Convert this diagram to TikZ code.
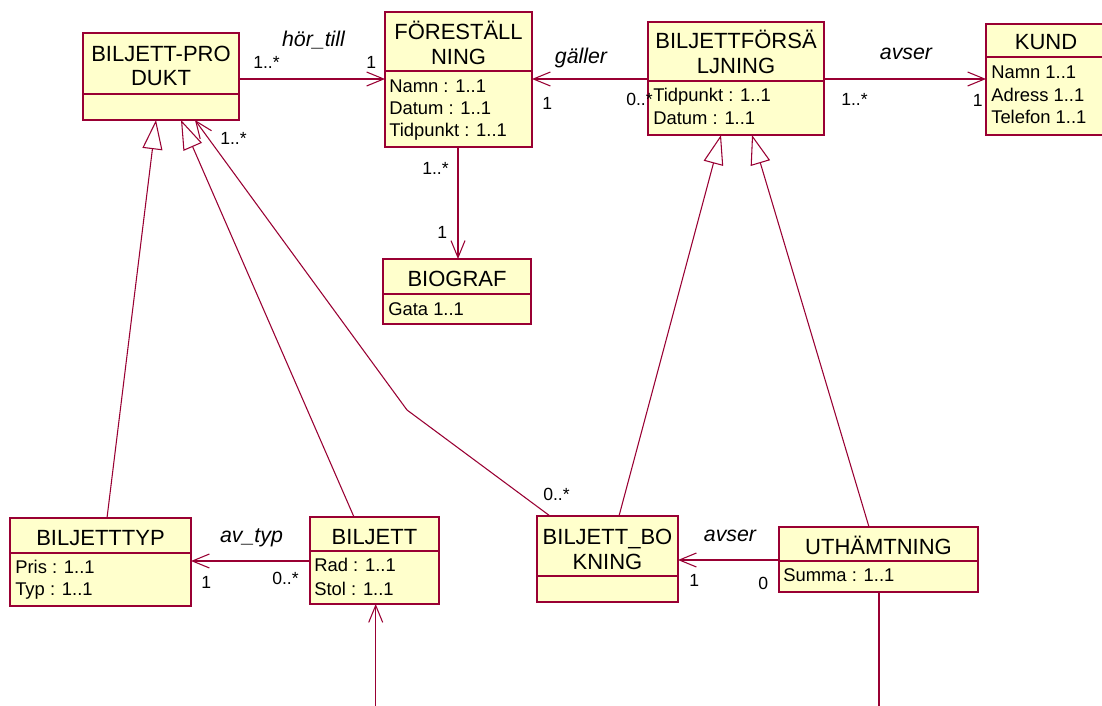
\documentclass[tikz,border=0pt]{standalone}
\usepackage{fontspec}
\setmainfont{Liberation Sans}
\usetikzlibrary{arrows.meta}
\definecolor{rose}{RGB}{153,0,51}
\definecolor{roseFill}{RGB}{255,255,204}
\begin{document}
\begin{tikzpicture}[x=0.75pt,y=-0.75pt,
  cls/.style 2 args={draw=rose, fill=roseFill, line width=1pt, inner sep=0pt, outer sep=0pt,
    anchor=north west, minimum width=#1*0.75pt, minimum height=#2*0.75pt},
  sep/.style={draw=rose, line width=1pt},
  ttl/.style={font=\fontsize{16.5}{18}\selectfont, anchor=base, inner sep=0pt},
  attr/.style={font=\fontsize{13.8}{16}\selectfont, anchor=base west, inner sep=0pt},
  rel/.style={font=\fontsize{16}{18}\selectfont\itshape, anchor=base, inner sep=0pt},
  mult/.style={font=\fontsize{13.2}{15}\selectfont, anchor=base west, inner sep=0pt},
  assoc/.style={draw=rose, line width=0.8pt, -{Straight Barb[length=12.75pt,width=10.5pt]}},
  gen/.style={draw=rose, line width=0.8pt, -{Triangle[open,length=22pt,width=15pt]}},
  plain/.style={draw=rose, line width=0.8pt},
]
\path[use as bounding box, clip] (0,0) rectangle (1102,706);
\fill[white] (0,0) rectangle (1102,706);

% ---------- class boxes ----------
\node[cls={156}{87}]  (bp) at (83,33)   {};
\draw[sep] (bp.west |- 0,94) -- (bp.east |- 0,94);
\node[ttl] (bpt1) at (161,62) {BILJETT-PRO};
\node[ttl] (bpt2) at (161,86) {DUKT};

\node[cls={147}{135}] (fo) at (385,12)  {};
\draw[sep] (fo.west |- 0,71) -- (fo.east |- 0,71);
\node[ttl] (fot1) at (458.5,39.3) {FÖRESTÄLL};
\node[ttl] (fot2) at (458.5,65) {NING};
\node[attr] (foa1) at (389,92.7)  {Namn : 1..1};
\node[attr] (foa2) at (389,114.3) {Datum : 1..1};
\node[attr] (foa3) at (389,136.7) {Tidpunkt : 1..1};

\node[cls={176}{113}] (bf) at (648,22)  {};
\draw[sep] (bf.west |- 0,81) -- (bf.east |- 0,81);
\node[ttl] (bft1) at (736,48.3) {BILJETTFÖRSÄ};
\node[ttl] (bft2) at (736,73.3) {LJNING};
\node[attr] (bfa1) at (653,101.7) {Tidpunkt : 1..1};
\node[attr] (bfa2) at (653,125)   {Datum : 1..1};

\node[cls={120}{111}] (ku) at (986,24)  {};
\draw[sep] (ku.west |- 0,57) -- (ku.east |- 0,57);
\node[ttl] (kut) at (1046,50) {KUND};
\node[attr] (kua1) at (991,78.3)  {Namn 1..1};
\node[attr] (kua2) at (991,101.7) {Adress 1..1};
\node[attr] (kua3) at (991,124)   {Telefon 1..1};

\node[cls={148}{65}]  (bg) at (383,259) {};
\draw[sep] (bg.west |- 0,294) -- (bg.east |- 0,294);
\node[ttl] (bgt) at (457,286.7) {BIOGRAF};
\node[attr] (bga1) at (388,315) {Gata 1..1};

\node[cls={181}{88}]  (bt) at (10,518)  {};
\draw[sep] (bt.west |- 0,553) -- (bt.east |- 0,553);
\node[ttl] (btt) at (100.5,545) {BILJETTTYP};
\node[attr] (bta1) at (15,573.3) {Pris : 1..1};
\node[attr] (bta2) at (15,595)   {Typ : 1..1};

\node[cls={129}{87}]  (bi) at (310,517) {};
\draw[sep] (bi.west |- 0,551) -- (bi.east |- 0,551);
\node[ttl] (bit) at (374.5,544) {BILJETT};
\node[attr] (bia1) at (314,571.7) {Rad : 1..1};
\node[attr] (bia2) at (314,595)   {Stol : 1..1};

\node[cls={141}{86}]  (bb) at (537,516) {};
\draw[sep] (bb.west |- 0,576) -- (bb.east |- 0,576);
\node[ttl] (bbt1) at (607.5,544)   {BILJETT\_BO};
\node[ttl] (bbt2) at (607.5,569.3) {KNING};

\node[cls={199}{65}]  (ut) at (779,527) {};
\draw[sep] (ut.west |- 0,561) -- (ut.east |- 0,561);
\node[ttl] (utt) at (878.5,554) {UTHÄMTNING};
\node[attr] (uta1) at (783,581.7) {Summa : 1..1};

% ---------- associations ----------
\draw[assoc] (bp.east |- 0,79) -- (fo.west |- 0,79);
\draw[assoc] (bf.west |- 0,79) -- (fo.east |- 0,79);
\draw[assoc] (bf.east |- 0,79) -- (ku.west |- 0,79);
\draw[assoc] (458,0 |- fo.south) -- (458,0 |- bg.north);
\draw[assoc] (bi.west |- 0,561) -- (bt.east |- 0,561);
\draw[assoc] (ut.west |- 0,560) -- (bb.east |- 0,560);
\coordinate (bend) at (407,410);
\draw[assoc] (550,0 |- bb.north) -- (bend) -- (195,0 |- bp.south);
\coordinate (bot1) at (375.7,706);
\draw[assoc] (bot1) -- (bot1 |- bi.south);
\coordinate (bot2) at (879,706);
\draw[plain] (879,0 |- ut.south) -- (bot2);

% ---------- generalizations ----------
\draw[gen] (107,0 |- bt.north) -- (156,0 |- bp.south);
\draw[gen] (354,0 |- bi.north) -- (181,0 |- bp.south);
\draw[gen] (619,0 |- bb.north) -- (721,0 |- bf.south);
\draw[gen] (869,0 |- ut.north) -- (752,0 |- bf.south);

% ---------- association names ----------
\node[rel] (r1) at (313.5,46.7) {hör\_till};
\node[rel] (r2) at (581,63.3)   {gäller};
\node[rel] (r3) at (906,60)     {avser};
\node[rel] (r4) at (251.5,542.7) {av\_typ};
\node[rel] (r5) at (730,541.7)  {avser};

% ---------- multiplicities ----------
\node[mult] (m1)  at (253,68.3)  {1..*};
\node[mult] (m2)  at (366,68.3)  {1};
\node[mult] (m3)  at (220,145)   {1..*};
\node[mult] (m4)  at (542,110)   {1};
\node[mult] (m5)  at (626,106)   {0..*};
\node[mult] (m6)  at (841,106)   {1..*};
\node[mult] (m7)  at (972.5,106.7) {1};
\node[mult] (m8)  at (422,175)   {1..*};
\node[mult] (m9)  at (437,238)   {1};
\node[mult] (m10) at (201,588)   {1};
\node[mult] (m11) at (272,584)   {0..*};
\node[mult] (m12) at (543,500)   {0..*};
\node[mult] (m13) at (689,586)   {1};
\node[mult] (m14) at (758,589)   {0};
\end{tikzpicture}
\end{document}
